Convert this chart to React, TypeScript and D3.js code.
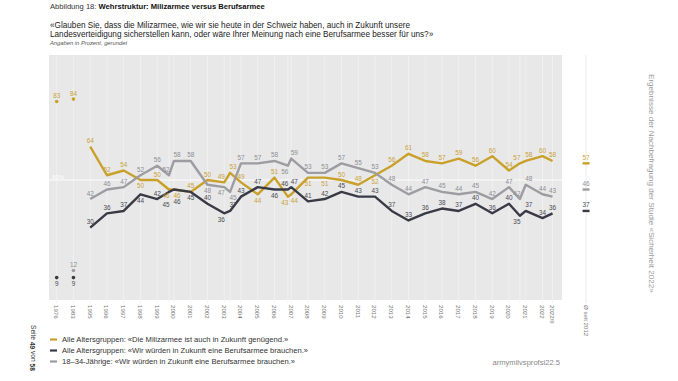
import React from "react";
import * as d3 from "d3";

const slotTimes = [1976, 1983, 1995, 1996, 1997, 1998, 1999, 1999.7, 2000, 2001, 2002, 2003, 2003.35, 2004, 2005, 2006, 2006.8, 2007, 2008, 2009, 2010, 2011, 2012, 2013, 2014, 2015, 2016, 2017, 2018, 2019, 2020, 2020.65, 2021, 2022, 2022.6];
const miliz = [83, 84, 64, 52, 54, 50, 50, 46, 46, 45, 50, 49, 53, 49, 44, 51, 43, 44, 51, 51, 50, 48, 52, 56, 61, 58, 57, 59, 56, 60, 54, 57, 58, 60, 58];
const berufAll = [9, 9, 30, 36, 37, 44, 42, 45, 46, 45, 40, 36, 37, 43, 47, 46, 46, 47, 41, 42, 45, 43, 43, 37, 33, 36, 38, 37, 40, 36, 40, 35, 37, 34, 36];
const beruf1834: (number | null)[] = [null, 12, 42, 46, 47, 52, 56, 52, 58, 58, 48, 47, 45, 57, 57, 58, 56, 59, 53, 53, 57, 55, 53, 48, 44, 47, 45, 44, 45, 42, 47, 42, 48, 44, 43];

const milizBelow = [1998, 1999.7, 2000, 2005, 2006.8, 2007, 2008, 2009, 2012];
const berufAllBelow = [1976, 1983, 1998, 1999.7, 2000, 2001, 2003, 2006, 2020.65];
const beruf1834Below = [2002, 2003, 2003.35, 2006.8];

const avgSince2012 = [57, 37, 46];
const avgLabel = "Ø seit 2012";

const tickTimes = [1976, 1983, 1995, 1996, 1997, 1998, 1999, 2000, 2001, 2002, 2003, 2004, 2005, 2006, 2007, 2008, 2009, 2010, 2011, 2012, 2013, 2014, 2015, 2016, 2017, 2018, 2019, 2020, 2021, 2022, 2022.6];
const tickLabels = ["1976", "1983", "1995", "1996", "1997", "1998", "1999", "2000", "2001", "2002", "2003", "2004", "2005", "2006", "2007", "2008", "2009", "2010", "2011", "2012", "2013", "2014", "2015", "2016", "2017", "2018", "2019", "2020", "2021", "2022", "2022/II"];

const legendLabels = [
  "Alle Altersgruppen: «Die Milizarmee ist auch in Zukunft genügend.»",
  "Alle Altersgruppen: «Wir würden in Zukunft eine Berufsarmee brauchen.»",
  "18–34-Jährige: «Wir würden in Zukunft eine Berufsarmee brauchen.»",
];

const GOLD = "#c9a12a";
const DARK = "#3a3a46";
const GREY = "#9c9ca2";
const colors = [GOLD, DARK, GREY];
const labelColors = ["#c9a23a", "#4a4a52", "#8e8e94"];

const idx = (t: number) => (t === 1976 ? 0 : t === 1983 ? 1 : t - 1993);
const x = d3.scaleLinear().domain([0, 29]).range([56.7, 542.5]);
const xt = (t: number) => x(idx(t));
const y = d3.scaleLinear().domain([0, 100]).range([299, 61]);

const FONT = "'Liberation Sans', Arial, sans-serif";

export default function App() {
  const series = [
    { vals: miliz as (number | null)[], below: milizBelow },
    { vals: berufAll as (number | null)[], below: berufAllBelow },
    { vals: beruf1834, below: beruf1834Below },
  ];
  const line = d3
    .line<[number, number]>()
    .x((d) => xt(d[0]))
    .y((d) => y(d[1]));

  const bgLeft = 49;
  const bgRight = 562;
  const bgTop = 55;
  const bgBottom = 300;
  const avgX = x(31.6);

  // horizontal nudge for labels of closely spaced surveys
  const dxFor = (i: number) => {
    const cx = xt(slotTimes[i]);
    if (i + 1 < slotTimes.length && xt(slotTimes[i + 1]) - cx < 7) return -3;
    if (i > 0 && cx - xt(slotTimes[i - 1]) < 7) return 3;
    return 0;
  };
  // vertical stacking when two below-labels of different series collide
  const extraDy = (si: number, i: number) => {
    const v = series[si].vals[i];
    if (v == null || !series[si].below.includes(slotTimes[i])) return 0;
    let e = 0;
    series.forEach((o, oi) => {
      if (oi === si) return;
      const ov = o.vals[i];
      if (ov == null || !o.below.includes(slotTimes[i])) return;
      if (Math.abs(ov - v) <= 3 && (ov > v || (ov === v && oi < si))) e = 6.5;
    });
    return e;
  };

  return (
    <svg width={678} height={381} style={{ position: "absolute", left: 0, top: 0 }} fontFamily={FONT}>
      <rect width={678} height={381} fill="#fff" />
      {/* titles */}
      <text x={50} y={8.5} fontSize={7.6} fill="#333">
        Abbildung 18: <tspan fontWeight="bold" fill="#111">Wehrstruktur: Milizarmee versus Berufsarmee</tspan>
      </text>
      <text x={50} y={28} fontSize={8.2} fill="#222">
        «Glauben Sie, dass die Milizarmee, wie wir sie heute in der Schweiz haben, auch in Zukunft unsere
      </text>
      <text x={50} y={37} fontSize={8.2} fill="#222">
        Landesverteidigung sicherstellen kann, oder wäre Ihrer Meinung nach eine Berufsarmee besser für uns?»
      </text>
      <text x={50} y={44.5} fontSize={5.8} fontStyle="italic" fill="#555">
        Angaben in Prozent, gerundet
      </text>

      {/* plot background */}
      <rect x={bgLeft} y={bgTop} width={bgRight - bgLeft} height={bgBottom - bgTop} fill="#e8e8e8" />
      {slotTimes.map((t, i) => (
        <line key={"g" + i} x1={xt(t)} x2={xt(t)} y1={bgTop} y2={bgBottom + 3} stroke="#f3f3f3" strokeWidth={0.8} />
      ))}
      <line x1={avgX} x2={avgX} y1={bgTop} y2={bgBottom + 3} stroke="#e4e4e4" strokeWidth={0.8} />
      <line x1={bgLeft} x2={bgRight} y1={y(50)} y2={y(50)} stroke="#fff" strokeWidth={0.9} />
      <text x={52} y={y(50) - 1} fontSize={6} fill="#fff">50%</text>

      {/* series */}
      {series.map((s, si) => {
        const pts: [number, number][] = [];
        slotTimes.forEach((t, i) => {
          const v = s.vals[i];
          if (v != null && t >= 1995) pts.push([t, v]);
        });
        return (
          <g key={"s" + si}>
            <path d={line(pts) || ""} fill="none" stroke={colors[si]} strokeWidth={2.4} strokeLinejoin="round" />
            {slotTimes.map((t, i) => {
              const v = s.vals[i];
              if (v == null || t >= 1995) return null;
              return <circle key={"d" + i} cx={xt(t)} cy={y(v)} r={1.8} fill={colors[si]} />;
            })}
          </g>
        );
      })}
      {series.map((s, si) => (
        <g key={"l" + si}>
          {slotTimes.map((t, i) => {
            const v = s.vals[i];
            if (v == null) return null;
            const below = s.below.includes(t);
            return (
              <text
                key={"t" + i}
                x={xt(t) + dxFor(i)}
                y={below ? y(v) + 8.3 + extraDy(si, i) : y(v) - 3.5}
                fontSize={6.4}
                textAnchor="middle"
                fill={labelColors[si]}
              >
                {v}
              </text>
            );
          })}
        </g>
      ))}

      {/* averages since 2012 */}
      {avgSince2012.map((v, i) => (
        <g key={"a" + i}>
          <line x1={avgX - 3.5} x2={avgX + 3.5} y1={y(v)} y2={y(v)} stroke={colors[i]} strokeWidth={2.4} />
          <text x={avgX} y={y(v) - 3.5} fontSize={6.4} textAnchor="middle" fill={labelColors[i]}>
            {v}
          </text>
        </g>
      ))}

      {/* x axis labels */}
      {tickTimes.map((t, i) => (
        <text
          key={"x" + i}
          transform={`translate(${xt(t)},${bgBottom + 5}) rotate(90)`}
          fontSize={6.1}
          fill="#777"
          dominantBaseline="central"
        >
          {tickLabels[i]}
        </text>
      ))}
      <text
        transform={`translate(${avgX},${bgBottom + 5}) rotate(90)`}
        fontSize={6.1}
        fill="#777"
        dominantBaseline="central"
      >
        {avgLabel}
      </text>

      {/* right vertical caption */}
      <text
        transform="translate(651,74) rotate(90)"
        fontSize={8.1}
        fill="#9a9a9a"
        dominantBaseline="central"
      >
        Ergebnisse der Nachbefragung der Studie «Sicherheit 2022»
      </text>

      {/* page number */}
      <text transform="translate(33,325) rotate(90)" fontSize={6.6} fill="#333" dominantBaseline="central">
        Seite <tspan fontWeight="bold">49</tspan> von <tspan fontWeight="bold">58</tspan>
      </text>

      {/* legend */}
      {legendLabels.map((l, i) => (
        <g key={"lg" + i} transform={`translate(50,${339.5 + i * 11})`}>
          <line x1={0} x2={7} y1={0} y2={0} stroke={colors[i]} strokeWidth={2.2} />
          <text x={12} y={0} fontSize={7.6} fill="#333" dominantBaseline="central">
            {l}
          </text>
        </g>
      ))}
      <text x={560} y={362} fontSize={7.6} fill="#888" textAnchor="end" dominantBaseline="central">
        armymilvsprofsi22.5
      </text>
    </svg>
  );
}
